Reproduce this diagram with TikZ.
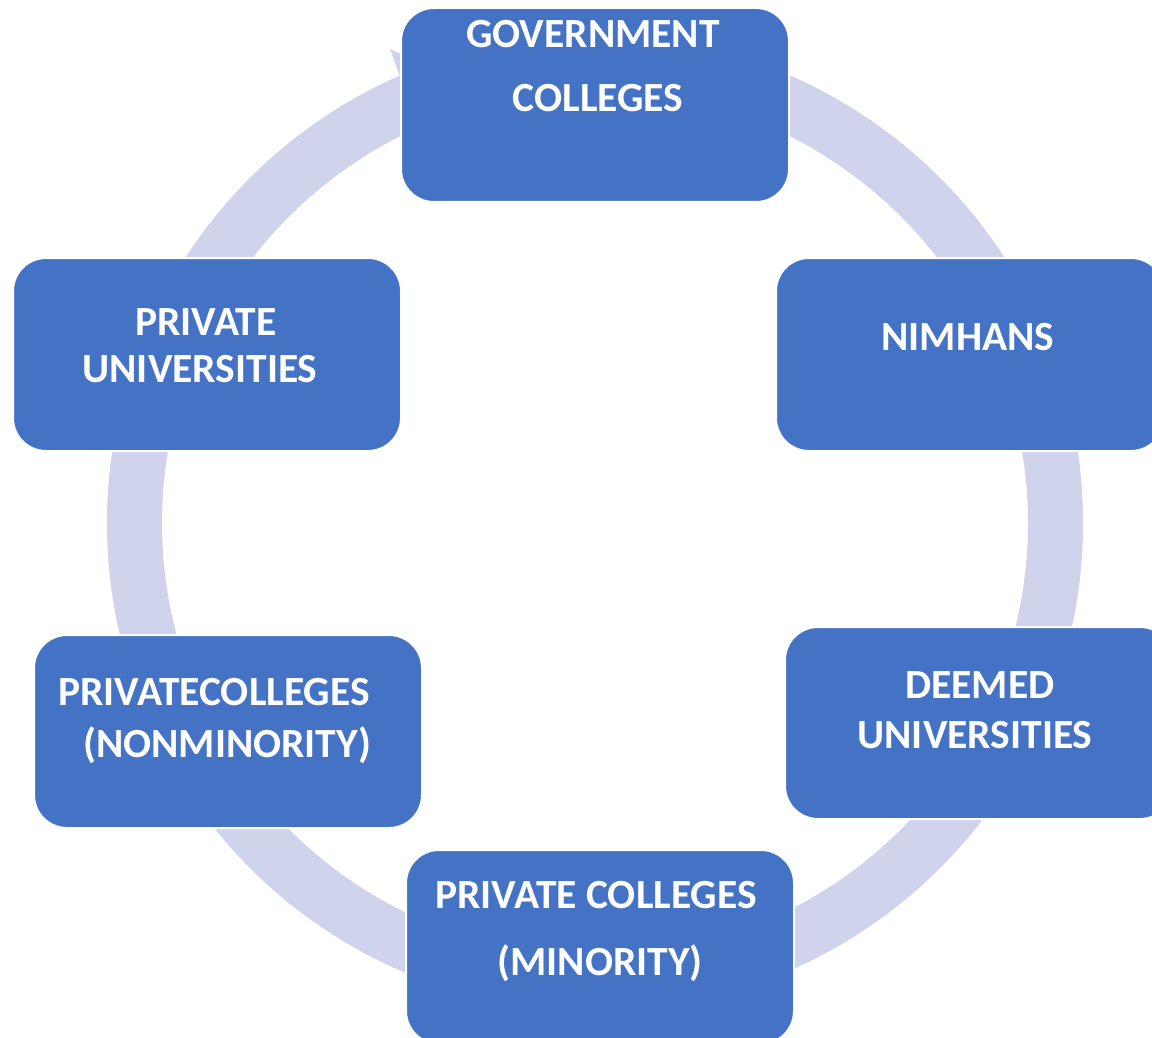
\documentclass[tikz,border=0pt]{standalone}
\usepackage{fontspec}
\setmainfont{Carlito}
\definecolor{boxblue}{HTML}{4472C4}
\definecolor{ringc}{HTML}{D0D3EC}
\tikzset{
  box/.style={draw=white, line width=2pt, fill=boxblue, rounded corners=33pt},
  lbl/.style={anchor=base, text=white, font=\fontsize{41.5}{41.5}\selectfont\bfseries, inner sep=0pt},
}
\begin{document}
\begin{tikzpicture}[x=1pt,y=-1pt]
\useasboundingbox (0,0) rectangle (1152,1038);
\clip (0,0) rectangle (1152,1038);
% ring
\fill[ringc, even odd rule] (595,523) circle[radius=488pt] (595,523) circle[radius=433pt];
% arrowhead wing near top box
\fill[ringc] (390,49) -- (402,82) -- (410,58) -- cycle;
% boxes
\path[box] (401,8) rectangle (789,202) node[pos=0.5, inner sep=0pt] (gov) {};
\path[box] (776,258) rectangle (1164,451) node[pos=0.5, inner sep=0pt] (nim) {};
\path[box] (785,627) rectangle (1173,819) node[pos=0.5, inner sep=0pt] (deem) {};
\path[box] (406,850) rectangle (794,1044) node[pos=0.5, inner sep=0pt] (minor) {};
\path[box] (34,635) rectangle (422,828) node[pos=0.5, inner sep=0pt] (nonmin) {};
\path[box] (13,258) rectangle (401,451) node[pos=0.5, inner sep=0pt] (pvtu) {};
% labels
\node[lbl] (t1a) at (593,48) {GOVERNMENT};
\node[lbl] (t1b) at (598,112) {COLLEGES};
\node[lbl] (t2a) at (968,350) {NIMHANS};
\node[lbl] (t3a) at (980,698) {DEEMED};
\node[lbl] (t3b) at (975,748) {UNIVERSITIES};
\node[lbl] (t4a) at (596,908) {PRIVATE COLLEGES};
\node[lbl] (t4b) at (600,975) {(MINORITY)};
\node[lbl] (t5a) at (214,705) {PRIVATECOLLEGES};
\node[lbl] (t5b) at (227,757) {(NONMINORITY)};
\node[lbl] (t6a) at (206,335) {PRIVATE};
\node[lbl] (t6b) at (200,382) {UNIVERSITIES};
\end{tikzpicture}
\end{document}
